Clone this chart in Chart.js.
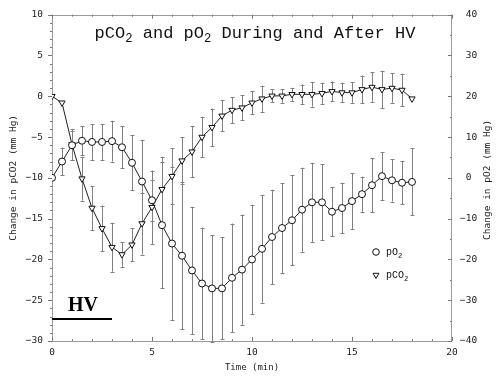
<!DOCTYPE html>
<html><head><meta charset="utf-8">
<script src="https://cdn.jsdelivr.net/npm/chart.js@4.4.1/dist/chart.umd.min.js"></script>
<style>
html,body{margin:0;padding:0;background:#fff;}
#wrap{position:relative;width:500px;height:380px;overflow:hidden;}
canvas{position:absolute;left:0;top:0;}
.title{position:absolute;left:0;width:510px;top:24px;line-height:20px;text-align:center;font-size:17px;font-family:"Liberation Mono",monospace;color:#111;white-space:nowrap;}
sub{font-size:0.72em;vertical-align:-0.35em;line-height:0;}
.hv{position:absolute;left:68px;top:292px;line-height:24px;font-weight:bold;font-size:20px;font-family:"Liberation Serif",serif;color:#000;}
.leg{position:absolute;left:386px;line-height:12px;font-size:10px;font-family:"Liberation Mono",monospace;color:#111;white-space:nowrap;}
</style></head>
<body>
<div id="wrap">
<canvas id="c" width="500" height="380"></canvas>
<div class="title">pCO<sub>2</sub> and pO<sub>2</sub> During and After HV</div>
<div class="hv">HV</div>
<div class="leg" style="top:247px">pO<sub>2</sub></div>
<div class="leg" style="top:270px">pCO<sub>2</sub></div>
</div>
<script>
const times = [0,0.5,1,1.5,2,2.5,3,3.5,4,4.5,5,5.5,6,6.5,7,7.5,8,8.5,9,9.5,10,10.5,11,11.5,12,12.5,13,13.5,14,14.5,15,15.5,16,16.5,17,17.5,18];
const pO2 = [0,4.0,8.0,9.1,8.8,8.8,9.0,7.5,3.7,-0.9,-5.5,-11.6,-16.1,-19.1,-22.7,-25.9,-27.1,-27.1,-24.5,-22.5,-20.0,-17.4,-14.5,-12.3,-10.4,-7.8,-6.0,-6.0,-8.3,-7.4,-5.7,-4.0,-1.8,0.4,-0.6,-1.2,-1.0];
const pO2Err = [0,3.4,3.6,3.6,4.4,4.4,5.0,5.2,6.7,10.2,5.0,15.5,18.7,18.0,15.6,13.7,13.1,12.5,13.3,13.5,13.4,13.2,11.6,11.0,11.0,10.3,9.7,9.3,6.0,6.2,6.8,4.3,6.6,5.9,5.2,5.3,8.2];
const pCO2 = [0,-0.8,-5.9,-10.1,-13.7,-16.2,-18.5,-19.4,-18.2,-15.6,-13.6,-11.4,-9.8,-7.9,-6.8,-5.0,-3.8,-2.4,-1.7,-1.4,-0.8,-0.3,0.05,0.05,0.24,0.24,0.24,0.36,0.6,0.45,0.45,0.84,1.12,0.84,1.0,0.76,-0.3];
const pCO2Err = [0,0,1.9,2.7,2.7,2.8,3.0,1.5,2.0,3.8,4.5,4.0,3.4,2.9,3.1,2.5,2.3,1.9,1.6,1.5,1.4,1.6,0.8,0.85,0.8,1.2,1.5,1.3,1.2,1.2,1.25,1.7,1.8,2.3,1.8,2.0,0];
const xTicks = [0,5,10,15,20];
const leftTicks = [-30,-25,-20,-15,-10,-5,0,5,10];
const rightTicks = [-40,-30,-20,-10,0,10,20,30,40];
const hvPeriod = [0,3];
const hvLevel = -27.3;

const TICKFONT = {family:'"DejaVu Sans Mono", monospace', size:9.5};
const fmtL = v => v < 0 ? '\u2212' + Math.abs(v) : String(v);
const fmtR = v => v < 0 ? '\u2212' + Math.abs(v) : ' ' + v;

function px(v){ return Math.round(v) + 0.5; }

const deco = {
  id:'deco',
  beforeDatasetsDraw(chart){
    const ctx = chart.ctx, ca = chart.chartArea;
    const xs = chart.scales.x, yl = chart.scales.y, yr = chart.scales.y2;
    ctx.save();
    ctx.strokeStyle = '#9a9a9a'; ctx.lineWidth = 1;
    ctx.beginPath();
    ctx.moveTo(px(ca.left), ca.top); ctx.lineTo(px(ca.left), ca.bottom);
    ctx.moveTo(px(ca.right)-1, ca.top); ctx.lineTo(px(ca.right)-1, ca.bottom);
    ctx.moveTo(ca.left, px(ca.bottom)); ctx.lineTo(ca.right, px(ca.bottom));
    ctx.moveTo(ca.left, px(ca.top)); ctx.lineTo(ca.right, px(ca.top));
    ctx.stroke();
    ctx.strokeStyle = '#777';
    ctx.beginPath();
    for (let v = yl.min; v <= yl.max; v += 1){
      const y = px(yl.getPixelForValue(v)); const L = (v % 5 === 0) ? 4 : 2;
      ctx.moveTo(ca.left, y); ctx.lineTo(ca.left - L, y);
    }
    for (let v = yr.min; v <= yr.max; v += 5){
      const y = px(yr.getPixelForValue(v)); const L = (v % 10 === 0) ? 4 : 2;
      ctx.moveTo(ca.right, y); ctx.lineTo(ca.right - L, y);
    }
    for (let t = xs.min; t <= xs.max; t += 1){
      const x = px(xs.getPixelForValue(t)); const L = (t % 5 === 0) ? 4 : 2;
      ctx.moveTo(x, ca.bottom); ctx.lineTo(x, ca.bottom - L);
      ctx.moveTo(x, ca.top); ctx.lineTo(x, ca.top + L);
    }
    ctx.stroke();
    ctx.strokeStyle = '#808080'; ctx.lineWidth = 1;
    const bars = (vals, errs, sc) => {
      ctx.beginPath();
      for (let i = 0; i < times.length; i++){
        if (!errs[i]) continue;
        const x = px(xs.getPixelForValue(times[i]));
        const y1 = sc.getPixelForValue(vals[i] + errs[i]);
        const y2 = sc.getPixelForValue(vals[i] - errs[i]);
        ctx.moveTo(x, y1); ctx.lineTo(x, y2);
        ctx.moveTo(x - 2, px(y1)); ctx.lineTo(x + 2, px(y1));
        ctx.moveTo(x - 2, px(y2)); ctx.lineTo(x + 2, px(y2));
      }
      ctx.stroke();
    };
    bars(pO2, pO2Err, yr);
    bars(pCO2, pCO2Err, yl);
    ctx.strokeStyle = '#000'; ctx.lineWidth = 2;
    ctx.beginPath();
    const hy = Math.round(yl.getPixelForValue(hvLevel));
    ctx.moveTo(xs.getPixelForValue(hvPeriod[0]), hy);
    ctx.lineTo(xs.getPixelForValue(hvPeriod[1]), hy);
    ctx.stroke();
    ctx.restore();
  },
  afterDraw(chart){
    const ctx = chart.ctx, ca = chart.chartArea;
    ctx.save();
    ctx.fillStyle = '#222';
    ctx.font = '9.5px "DejaVu Sans Mono", monospace';
    ctx.textAlign = 'center'; ctx.textBaseline = 'middle';
    ctx.translate(487.5, (ca.top + ca.bottom) / 2 + 2);
    ctx.rotate(-Math.PI / 2);
    ctx.fillText('Change in pO2 (mm Hg)', 0, 0);
    ctx.restore();
    ctx.save();
    ctx.strokeStyle = '#111'; ctx.fillStyle = '#fff'; ctx.lineWidth = 1;
    ctx.beginPath(); ctx.arc(376, 252, 3.3, 0, Math.PI * 2); ctx.fill(); ctx.stroke();
    const r = 3.4, cx = 376, cy = 275;
    ctx.beginPath();
    ctx.moveTo(cx - r * 0.866, cy - r * 0.5);
    ctx.lineTo(cx + r * 0.866, cy - r * 0.5);
    ctx.lineTo(cx, cy + r);
    ctx.closePath(); ctx.fill(); ctx.stroke();
    ctx.restore();
  }
};

new Chart(document.getElementById('c'), {
  type:'line',
  data:{
    datasets:[
      {label:'pO2', yAxisID:'y2', data: times.map((t,i)=>({x:t, y:pO2[i]})),
       borderColor:'#222', borderWidth:1, pointStyle:'circle', pointRadius:3.5,
       pointBackgroundColor:'#fff', pointBorderColor:'#111', pointBorderWidth:1, tension:0},
      {label:'pCO2', yAxisID:'y', data: times.map((t,i)=>({x:t, y:pCO2[i]})),
       borderColor:'#222', borderWidth:1, pointStyle:'triangle', pointRotation:180, pointRadius:3.6,
       pointBackgroundColor:'#fff', pointBorderColor:'#111', pointBorderWidth:1, tension:0}
    ]
  },
  options:{
    responsive:false, animation:false, events:[],
    layout:{padding:{top:9,left:0,right:0,bottom:0}},
    plugins:{legend:{display:false}, tooltip:{enabled:false}, title:{display:false}},
    scales:{
      x:{type:'linear', min:0, max:20, position:'bottom',
        afterBuildTicks: s => { s.ticks = xTicks.map(v=>({value:v})); },
        afterFit: s => { s.height = 39; },
        grid:{display:false, drawTicks:false, tickLength:0}, border:{display:false},
        ticks:{padding:6, color:'#222', font:TICKFONT, maxRotation:0, callback: v => String(v)},
        title:{display:true, text:'Time (min)', color:'#222', font:{family:'"DejaVu Sans Mono", monospace', size:9}, padding:{top:0,bottom:7}}
      },
      y:{type:'linear', min:-30, max:10, position:'left',
        afterBuildTicks: s => { s.ticks = leftTicks.map(v=>({value:v})); },
        afterFit: s => { s.width = 52; },
        grid:{display:false, drawTicks:false, tickLength:0}, border:{display:false},
        ticks:{padding:9, color:'#222', font:TICKFONT, callback: fmtL},
        title:{display:true, text:'Change in pCO2 (mm Hg)', color:'#222', font:{family:'"DejaVu Sans Mono", monospace', size:9.5}, padding:{top:8,bottom:0}}
      },
      y2:{type:'linear', min:-40, max:40, position:'right',
        afterBuildTicks: s => { s.ticks = rightTicks.map(v=>({value:v})); },
        afterFit: s => { s.width = 48; },
        grid:{display:false, drawTicks:false, tickLength:0}, border:{display:false},
        ticks:{padding:8, color:'#222', font:TICKFONT, callback: fmtR}
      }
    }
  },
  plugins:[deco]
});
</script>
</body></html>
